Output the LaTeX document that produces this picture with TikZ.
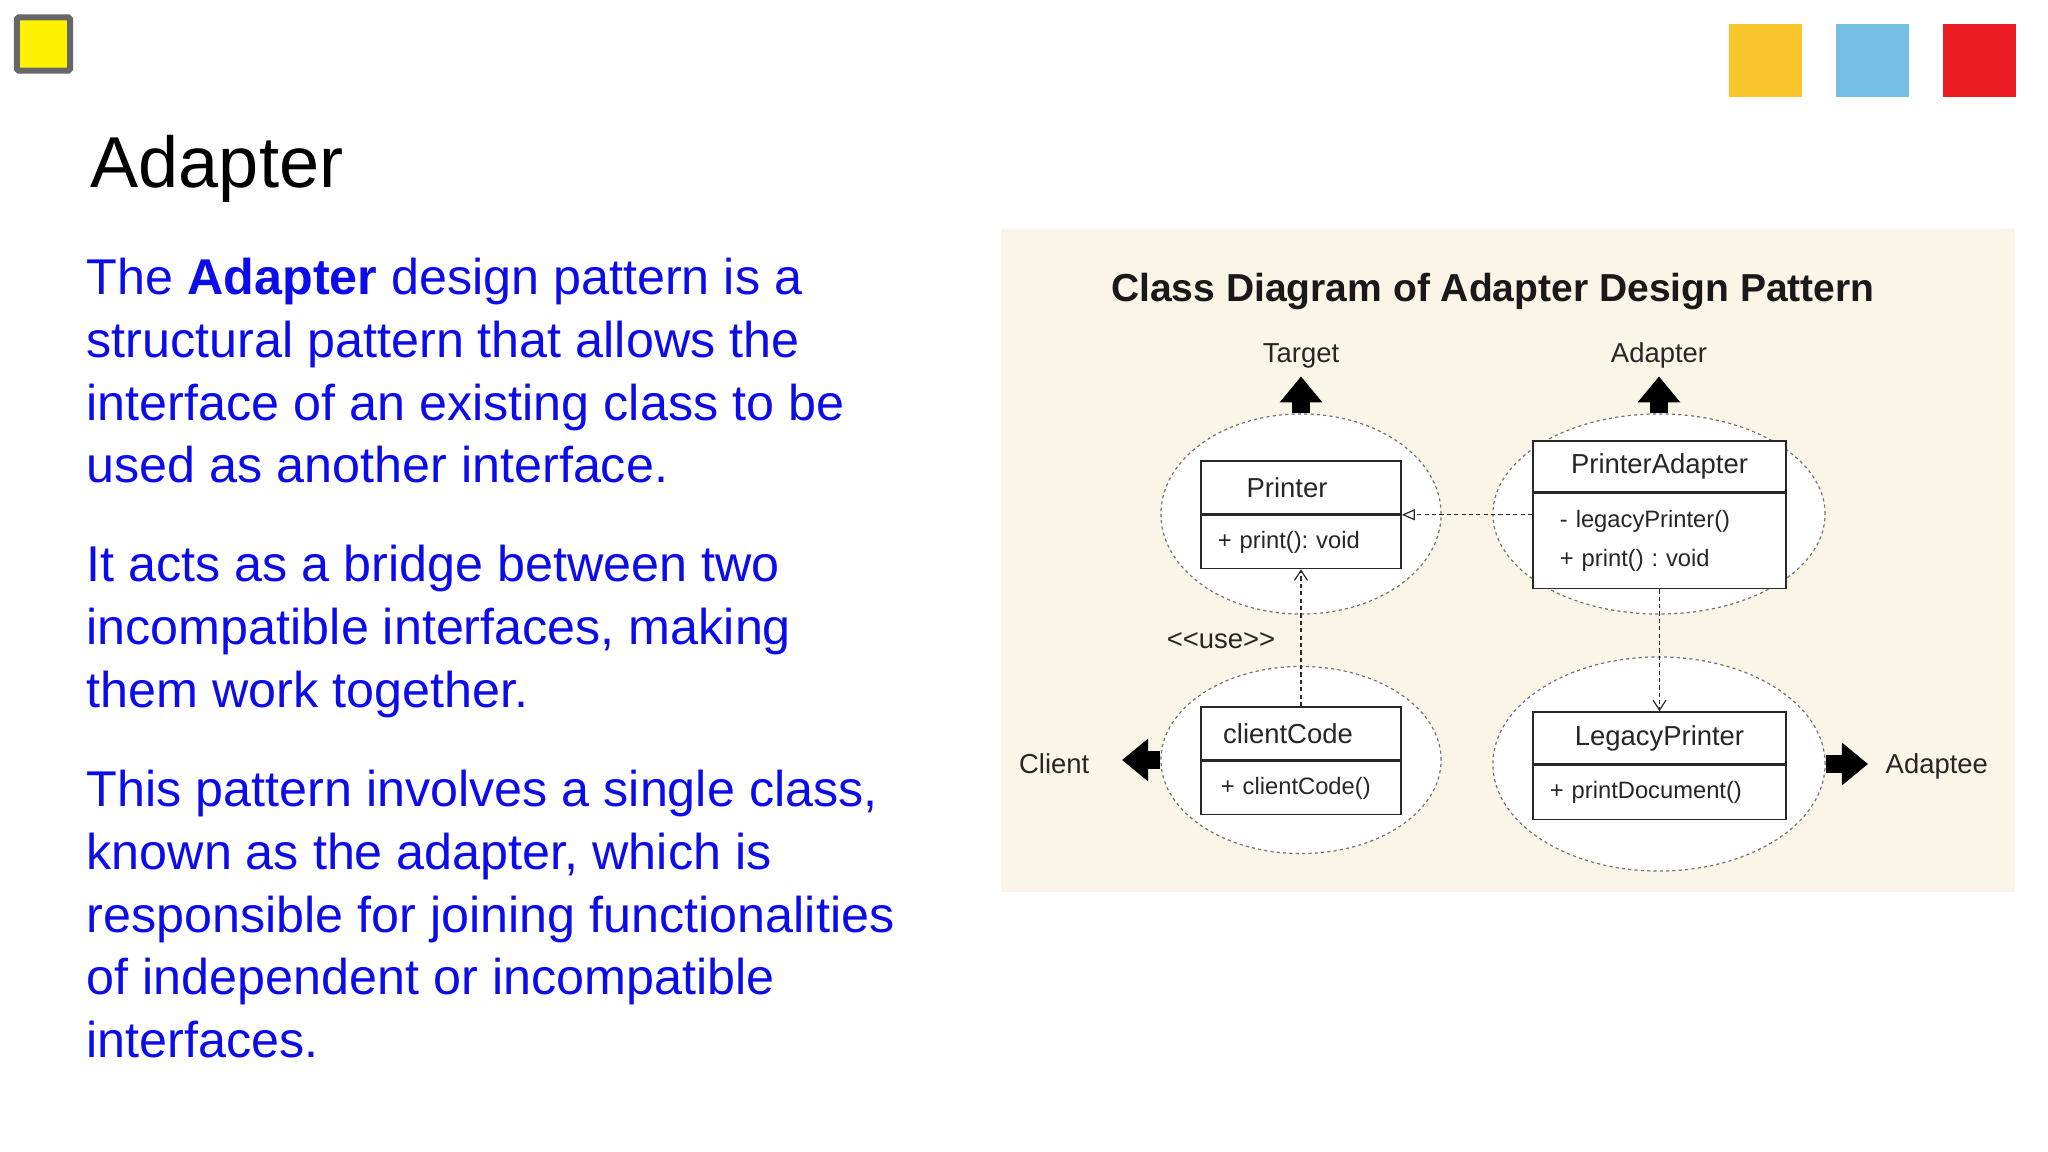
\documentclass[tikz,border=0pt]{standalone}
\usepackage{fontspec}
\setmainfont{Liberation Sans}
\usetikzlibrary{arrows.meta,positioning,shapes.geometric}

\definecolor{slideblue}{RGB}{12,12,235}
\definecolor{panelbg}{RGB}{251,245,232}
\definecolor{sqyellow}{RGB}{249,198,43}
\definecolor{sqblue}{RGB}{116,191,227}
\definecolor{sqred}{RGB}{236,28,36}
\definecolor{lineclr}{RGB}{40,40,40}

\begin{document}
\frenchspacing
\begin{tikzpicture}[x=0.01cm,y=-0.01cm,every node/.style={inner sep=0pt},
  bodytxt/.style={anchor=base west,text=slideblue,font=\fontsize{14.3}{17.8}\selectfont},
  clsbox/.style={draw=lineclr,line width=0.015cm,fill=white,text=black!85},
  clshead/.style={clsbox,font=\fontsize{7.8}{9}\selectfont},
  clsbody/.style={clsbox,align=left,font=\fontsize{6.75}{11.1}\selectfont},
  halo/.style={ellipse,draw=black!55,fill=white,line width=0.012cm,dash pattern=on 0.9pt off 0.9pt},
  dep/.style={draw=lineclr,line width=0.012cm,dash pattern=on 1.2pt off 0.9pt},
  bigarrow/.style={line width=0.18cm,-{Triangle[length=0.26cm,width=0.41cm]}},
  lbl/.style={font=\fontsize{7.8}{9}\selectfont,text=black!85},
  colsq/.style={minimum size=0.73cm}]
  \useasboundingbox[fill=white] (0,0) rectangle (2048,1152);

  % slide header
  \node[draw=black!60,line width=0.06cm,fill=yellow,minimum size=0.53cm,rounded corners=0.5pt] (marker) at (43.5,44) {};
  \node[colsq,fill=sqyellow] (sq1) at (1765.5,60.5) {};
  \node[colsq,fill=sqblue] (sq2) at (1872.5,60.5) {};
  \node[colsq,fill=sqred] (sq3) at (1979.5,60.5) {};
  \node[anchor=base west,font=\fontsize{20.5}{24}\selectfont] (title) at (90,188) {Adapter};

  % slide text
  \foreach \ln/\yy [count=\i] in {
      {The \textbf{Adapter} design pattern is a}/295,
      {structural pattern that allows the}/358,
      {interface of an existing class to be}/421,
      {used as another interface.}/483,
      {It acts as a bridge between two}/582,
      {incompatible interfaces, making}/644,
      {them work together.}/707,
      {This pattern involves a single class,}/806,
      {known as the adapter, which is}/869,
      {responsible for joining functionalities}/932,
      {of independent or incompatible}/994,
      {interfaces.}/1057}{
      \node[bodytxt] (line\i) at (86,\yy) {\ln};
  }

  % class diagram
  \node[fill=panelbg,minimum width=10.13cm,minimum height=6.63cm] (panel) at (1508,560.5) {};
  \node[anchor=base,font=\bfseries\fontsize{11.1}{13}\selectfont,text=black!90] (dtitle) at (1493,302) {Class Diagram of Adapter Design Pattern};

  \node[halo,minimum width=2.8cm,minimum height=2cm] (tgthalo) at (1301,514) {};
  \node[halo,minimum width=3.32cm,minimum height=2cm] (adphalo) at (1659,514) {};
  \node[halo,minimum width=2.8cm,minimum height=1.87cm] (clihalo) at (1301,760) {};
  \node[halo,minimum width=3.32cm,minimum height=2.14cm] (adtehalo) at (1659,764) {};

  \node[clshead,minimum width=2cm,minimum height=0.53cm] (printerh) at (1301,487.5) {\hspace*{-0.28cm}Printer};
  \node[clsbody,below=0pt of printerh,minimum height=0.53cm,inner xsep=0.17cm,text width=1.66cm] (printerb) {+ print(): void};

  \node[clshead,minimum width=2.53cm,minimum height=0.51cm] (padapth) at (1659.5,466.5) {PrinterAdapter};
  \node[clsbody,below=0pt of padapth,minimum height=0.95cm,inner xsep=0.27cm,text width=1.99cm] (padaptb) {- legacyPrinter()\\+ print() : void};

  \node[clshead,minimum width=2cm,minimum height=0.53cm] (clih) at (1301,733.5) {\hspace*{-0.26cm}clientCode};
  \node[clsbody,below=0pt of clih,minimum height=0.53cm,inner xsep=0.2cm,text width=1.6cm] (clib) {+ clientCode()};

  \node[clshead,minimum width=2.53cm,minimum height=0.52cm] (legacyh) at (1659.5,738) {LegacyPrinter};
  \node[clsbody,below=0pt of legacyh,minimum height=0.54cm,inner xsep=0.17cm,text width=2.19cm] (legacyb) {+ printDocument()};

  \node[lbl,anchor=base] (tgtlbl) at (1301,363) {Target};
  \node[lbl,anchor=base] (adplbl) at (1659,363) {Adapter};
  \node[lbl,anchor=base east] (clilbl) at (1090,773) {Client};
  \node[lbl,anchor=base west] (adtelbl) at (1885,773) {Adaptee};
  \node[lbl,anchor=base] (uselbl) at (1221,648) {<\kern0pt<use>\kern0pt>};

  \draw[bigarrow,shorten >=0.07cm] (tgthalo.north) -- (tgthalo.north |- tgtlbl.south);
  \draw[bigarrow,shorten >=0.07cm] (adphalo.north) -- (adphalo.north |- adplbl.south);
  \draw[bigarrow,shorten >=0.32cm] (clihalo.west) -- (clihalo.west -| clilbl.east);
  \draw[bigarrow,shorten >=0.17cm] (adtehalo.east) -- (adtehalo.east -| adtelbl.west);

  \draw[dep,-{Triangle[open,length=0.13cm,width=0.11cm]}] (padapth.west |- printerh.south east) -- (printerh.south east);
  \draw[dep,-{Straight Barb[length=0.1cm,width=0.13cm]}] (clih.north) -- (printerb.south);
  \draw[dep,-{Straight Barb[length=0.1cm,width=0.13cm]}] (padaptb.south) -- (legacyh.north);
\end{tikzpicture}
\end{document}
